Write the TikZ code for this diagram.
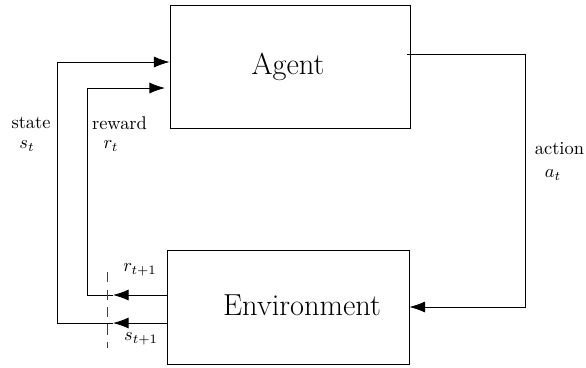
\documentclass[tikz,border=0pt]{standalone}
\usetikzlibrary{arrows.meta}
\begin{document}
\begin{tikzpicture}[x=0.543pt,y=-0.543pt,
  line width=0.45pt,
  box/.style={draw,line width=0.45pt,inner sep=0pt},
  big/.style={inner sep=0pt,font=\fontsize{16.5}{20}\selectfont},
  arr/.style={-{Latex[length=8.5pt,width=6pt]}},
  lbl/.style={inner sep=0pt,font=\normalsize}]
\useasboundingbox (0,0) rectangle (586,367);
\node[box,minimum width={240*0.543pt},minimum height={123*0.543pt}] (agent) at (290,66.5) {};
\node[big] (agentt) at (288,67) {Agent};
\node[box,minimum width={242*0.543pt},minimum height={114*0.543pt}] (env) at (288,307) {};
\node[big] (envt) at (302,305) {Environment};
% action
\coordinate (a0) at (407,54);
\coordinate (a1) at (525,54);
\draw[arr] (a0) -- (a1) |- (env.east);
% state
\coordinate (s0) at (113,323);
\coordinate (s1) at (57,323);
\coordinate (s2) at (57,62);
\draw[arr] (env.west |- s0) -- (s0);
\draw[arr] (s0) -- (s1) -- (s2) -- (agent.west |- s2);
% reward
\coordinate (r0) at (113,295);
\coordinate (r1) at (87,295);
\coordinate (r2) at (87,88);
\coordinate (r3) at (165,88);
\draw[arr] (env.west |- r0) -- (r0);
\draw[arr] (r0) -- (r1) -- (r2) -- (r3);
% dashed
\coordinate (d0) at (107,272);
\coordinate (d1) at (107,348);
\draw[dash pattern=on 5.5pt off 4pt,line width=0.45pt,black!75] (d0) -- (d1);
% labels
\node[lbl] (ls) at (31,123) {state};
\node[lbl] (lst) at (27,146) {$s_t$};
\node[lbl] (lr) at (119.5,123) {reward};
\node[lbl] (lrt) at (111,146) {$r_t$};
\node[lbl] (la) at (559.5,149) {action};
\node[lbl] (lat) at (553,175) {$a_t$};
\node[lbl] (lr1) at (140,270) {$r_{t+1}$};
\node[lbl] (ls1) at (141,339) {$s_{t+1}$};
\end{tikzpicture}
\end{document}
